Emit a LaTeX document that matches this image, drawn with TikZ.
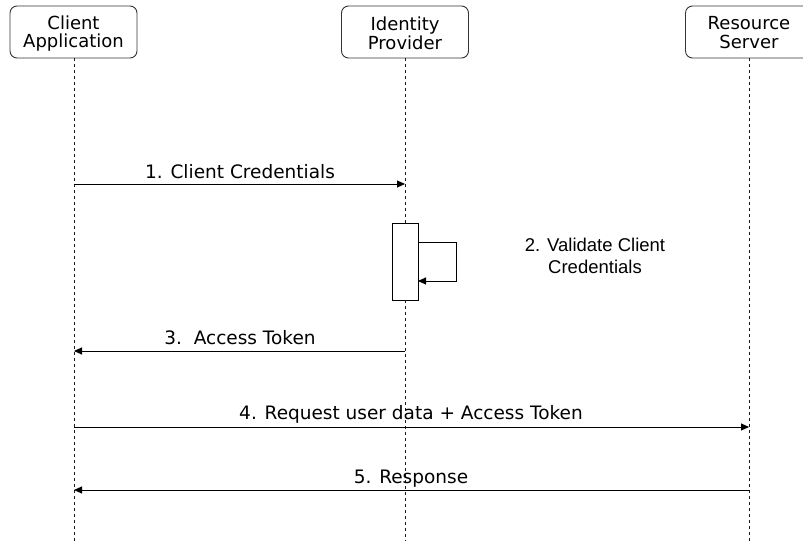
\documentclass[tikz,border=0pt]{standalone}
\usepackage{fontspec}
\setmainfont{DejaVu Sans}
\newfontfamily\helv{Liberation Sans}
\usetikzlibrary{arrows.meta}
\definecolor{linegray}{HTML}{1A1A1A}
\definecolor{boxgray}{HTML}{333333}
\tikzset{
  actor/.style={draw=boxgray, line width=0.9pt, rounded corners=7pt, minimum width=127pt, minimum height=52pt, inner sep=0pt},
  actortext/.style={align=center, inner sep=0pt, font=\fontsize{18}{18.5}\selectfont},
  lifeline/.style={draw=linegray, line width=0.8pt, dash pattern=on 3pt off 3pt},
  msg/.style={draw=black, line width=0.9pt, -{Triangle[length=8pt,width=7pt]}},
  msglabel/.style={font=\fontsize{18.5}{18.5}\selectfont, inner sep=0pt, anchor=base},
  actbox/.style={draw=black, line width=0.9pt, fill=white, minimum width=26pt, minimum height=77pt, inner sep=0pt},
  note/.style={font=\helv\fontsize{18.5}{22}\selectfont, align=center, inner sep=0pt}
}
\begin{document}
\begin{tikzpicture}[x=1pt,y=-1pt]
\useasboundingbox (0,0) rectangle (803,541);
\clip (0,0) rectangle (803,541);
\node[actor] (ca) at (73.5,32) {};
\node[actortext] (cat) at (73.5,33.5) {Client\\Application};
\node[actor] (idp) at (405,32) {};
\node[actortext] (idpt) at (405,33.5) {Identity\\Provider};
\node[actor] (rs) at (749,32) {};
\node[actortext] (rst) at (749,32.5) {Resource\\Server};
\coordinate (caend) at (74,541);
\coordinate (idpend) at (405,541);
\coordinate (rsend) at (749,541);
\node[actbox] (act) at (405,261.5) {};
\draw[lifeline] (ca.south -| caend) -- (caend);
\draw[lifeline] (idp.south) -- (act.north);
\draw[lifeline] (act.south) -- (idpend);
\draw[lifeline] (rs.south) -- (rsend);
% message 1
\coordinate (m1a) at (74,184);
\coordinate (m1b) at (405,184);
\draw[msg] (m1a) -- (m1b);
\node[msglabel] (l1) at (240,178) {1. Client Credentials};
% self loop
\coordinate (s1) at (418,242);
\coordinate (s2) at (456,242);
\coordinate (s3) at (456,281);
\coordinate (s4) at (418,281);
\draw[msg] (s1) -- (s2) -- (s3) -- (s4);
\node[note] (l2) at (595,256) {2. Validate Client\\Credentials};
% message 3
\coordinate (m3a) at (405,351);
\coordinate (m3b) at (74,351);
\draw[msg] (m3a) -- (m3b);
\node[msglabel] (l3) at (240,344) {3.\ \ Access Token};
% message 4
\coordinate (m4a) at (74,427);
\coordinate (m4b) at (749,427);
\draw[msg] (m4a) -- (m4b);
\node[msglabel] (l4) at (411,419) {4. Request user data + Access Token};
% message 5
\coordinate (m5a) at (749,490);
\coordinate (m5b) at (74,490);
\draw[msg] (m5a) -- (m5b);
\node[msglabel] (l5) at (411,483) {5. Response};
\end{tikzpicture}
\end{document}
